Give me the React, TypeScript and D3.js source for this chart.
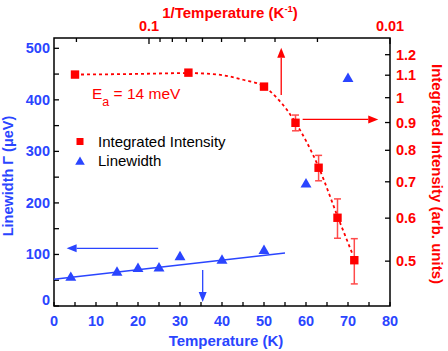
import React from 'react';
import * as d3 from 'd3';

// ---- data ----
const intTemp = [5, 32, 50, 57.5, 63, 67.5, 71.5];
const intensity = [1.103, 1.112, 1.048, 0.899, 0.743, 0.601, 0.502];
const intensityErr = [0, 0, 0, 0.03, 0.04, 0.05, 0.048];

const lwTemp = [4, 15, 20, 25, 30, 40, 50, 60, 70];
const linewidth = [58, 68, 75, 76, 98, 91, 110, 239, 444];

const fitTemp = [5, 20, 32, 39, 45, 50, 53, 55.5, 57.5, 63, 67.5, 71];
const fitIntensity = [1.103, 1.106, 1.11, 1.103, 1.079, 1.049, 1.0, 0.949, 0.9, 0.745, 0.605, 0.517];

const lwFitTemp = [0, 55];
const lwFit = [52, 103];

const xMajor = [0, 10, 20, 30, 40, 50, 60, 70, 80];
const xMinor = [5, 15, 25, 35, 45, 55, 65, 75];
const yMajor = [0, 100, 200, 300, 400, 500];
const yMinor = [50, 150, 250, 350, 450];
const rightTicks = [0.5, 0.6, 0.7, 0.8, 0.9, 1, 1.1, 1.2];
const topMajor = [0.1, 0.01];
const topMinor = [0.2, 0.09, 0.08, 0.07, 0.06, 0.05, 0.04, 0.03, 0.02];

const RED = '#ff0000';
const BLUE = '#2a45ff';
const FONT = 'Liberation Sans, Arial, sans-serif';

const L = 54, R = 390, T = 38, B = 306;

export default function App() {
  const x = d3.scaleLinear().domain([0, 80]).range([L, R]);
  const y = d3.scaleLinear().domain([0, 520]).range([B, T]);
  const yr = d3.scaleLog().domain([0.4134, 1.288]).range([B, T]);
  const xt = d3.scaleLog().domain([0.2478, 0.01]).range([L, R]);

  const fitLine = d3.line<number>()
    .x((_, i) => x(fitTemp[i]))
    .y((d) => yr(d))
    .curve(d3.curveMonotoneX)(fitIntensity) || '';

  const lwLine = d3.line<number>()
    .x((_, i) => x(lwFitTemp[i]))
    .y((d) => y(d))(lwFit) || '';

  const tri = d3.symbol().type(d3.symbolTriangle).size(52)() || '';

  const arrow = (x1: number, y1: number, x2: number, y2: number, color: string, key: string) => {
    const ang = Math.atan2(y2 - y1, x2 - x1);
    const len = 10, w = 4;
    const bx = x2 - len * Math.cos(ang), by = y2 - len * Math.sin(ang);
    const px = -Math.sin(ang) * w, py = Math.cos(ang) * w;
    return (
      <g key={key}>
        <line x1={x1} y1={y1} x2={bx} y2={by} stroke={color} strokeWidth={1.3} />
        <polygon points={`${x2},${y2} ${bx + px},${by + py} ${bx - px},${by - py}`} fill={color} />
      </g>
    );
  };

  return (
    <svg width={448} height={351} style={{ position: 'absolute', left: 0, top: 0 }} fontFamily={FONT}>
      <rect width={448} height={351} fill="#fff" />
      {/* frame */}
      <rect x={L} y={T} width={R - L} height={B - T} fill="none" stroke="#000" strokeWidth={1.5} />

      {/* bottom ticks */}
      {xMajor.concat(xMinor).map((t) => (
        <line key={'xb' + t} x1={x(t)} x2={x(t)} y1={B} y2={B - 4} stroke="#000" strokeWidth={1.3} />
      ))}
      {xMajor.map((t) => (
        <text key={'xl' + t} x={x(t)} y={326} textAnchor="middle" fill={BLUE} fontWeight="bold" fontSize={14.5}>{t}</text>
      ))}
      <text x={226} y={346} textAnchor="middle" fill={BLUE} fontWeight="bold" fontSize={15}>Temperature (K)</text>

      {/* left ticks */}
      {yMajor.concat(yMinor).map((t) => (
        <line key={'yl' + t} x1={L} x2={L + 5} y1={y(t)} y2={y(t)} stroke="#000" strokeWidth={1.3} />
      ))}
      {yMajor.map((t) => (
        <text key={'ylab' + t} x={50} y={t === 0 ? y(t) - 1 : y(t) + 5} textAnchor="end" fill={BLUE} fontWeight="bold" fontSize={14.5}>{t}</text>
      ))}
      <text transform={`translate(13,176) rotate(-90)`} textAnchor="middle" fill={BLUE} fontWeight="bold" fontSize={14.5}>Linewidth Γ (μeV)</text>

      {/* right ticks */}
      {rightTicks.map((t) => (
        <line key={'yr' + t} x1={R} x2={R - 5} y1={yr(t)} y2={yr(t)} stroke="#000" strokeWidth={1.3} />
      ))}
      {rightTicks.map((t) => (
        <text key={'yrl' + t} x={396} y={yr(t) + 5} textAnchor="start" fill={RED} fontWeight="bold" fontSize={14.5}>{t}</text>
      ))}
      <text transform={`translate(432,174) rotate(90)`} textAnchor="middle" fill={RED} fontWeight="bold" fontSize={15}>Integrated Intensity (arb. units)</text>

      {/* top ticks */}
      {topMajor.map((t) => (
        <line key={'tm' + t} x1={xt(t)} x2={xt(t)} y1={T} y2={T + 6} stroke="#000" strokeWidth={1.3} />
      ))}
      {topMinor.map((t) => (
        <line key={'tn' + t} x1={xt(t)} x2={xt(t)} y1={T} y2={T + 4} stroke="#000" strokeWidth={1.3} />
      ))}
      {topMajor.map((t) => (
        <text key={'tl' + t} x={xt(t)} y={31} textAnchor="middle" fill={RED} fontWeight="bold" fontSize={14.5}>{t}</text>
      ))}
      <text x={230} y={18} textAnchor="middle" fill={RED} fontWeight="bold" fontSize={15}>
        1/Temperature (K<tspan dy={-6} fontSize={9.5}>-1</tspan><tspan dy={6}>)</tspan>
      </text>

      {/* linewidth fit */}
      <path d={lwLine} fill="none" stroke={BLUE} strokeWidth={1.5} />

      {/* intensity fit */}
      <path d={fitLine} fill="none" stroke={RED} strokeWidth={1.8} strokeDasharray="3,3" />

      {/* error bars */}
      {intTemp.map((t, i) => intensityErr[i] > 0 ? (
        <g key={'eb' + i} stroke="#ff4a4a" strokeWidth={1.5}>
          <line x1={x(t)} x2={x(t)} y1={yr(intensity[i] + intensityErr[i])} y2={yr(intensity[i] - intensityErr[i])} />
          <line x1={x(t) - 3.5} x2={x(t) + 3.5} y1={yr(intensity[i] + intensityErr[i])} y2={yr(intensity[i] + intensityErr[i])} />
          <line x1={x(t) - 3.5} x2={x(t) + 3.5} y1={yr(intensity[i] - intensityErr[i])} y2={yr(intensity[i] - intensityErr[i])} />
        </g>
      ) : null)}

      {/* squares */}
      {intTemp.map((t, i) => (
        <rect key={'sq' + i} x={x(t) - 4.2} y={yr(intensity[i]) - 4.2} width={8.4} height={8.4} fill={RED} />
      ))}

      {/* triangles */}
      {lwTemp.map((t, i) => (
        <path key={'tr' + i} d={tri} transform={`translate(${x(t)},${y(linewidth[i]) + 1.6})`} fill={BLUE} />
      ))}

      {/* arrows */}
      {arrow(x(54.1), yr(1.011), x(54.1), yr(1.236), RED, 'a1')}
      {arrow(x(59.2), yr(0.912), x(77.2), yr(0.912), RED, 'a2')}
      {arrow(x(24.8), y(112), x(3.0), y(112), BLUE, 'a3')}
      {arrow(x(35.4), y(70), x(35.4), y(8), BLUE, 'a4')}

      {/* Ea label */}
      <text x={92} y={99} fill={RED} fontSize={15.5}>
        E<tspan dy={7} fontSize={12.5}>a</tspan><tspan dy={-7}> = 14 meV</tspan>
      </text>

      {/* legend */}
      <rect x={76.5} y={138} width={7} height={7} fill={RED} />
      <text x={98} y={146.5} fontSize={15} fill="#000">Integrated Intensity</text>
      <path d={d3.symbol().type(d3.symbolTriangle).size(40)() || ''} transform="translate(80,162)" fill={BLUE} />
      <text x={98} y={166} fontSize={15} fill="#000">Linewidth</text>
    </svg>
  );
}
